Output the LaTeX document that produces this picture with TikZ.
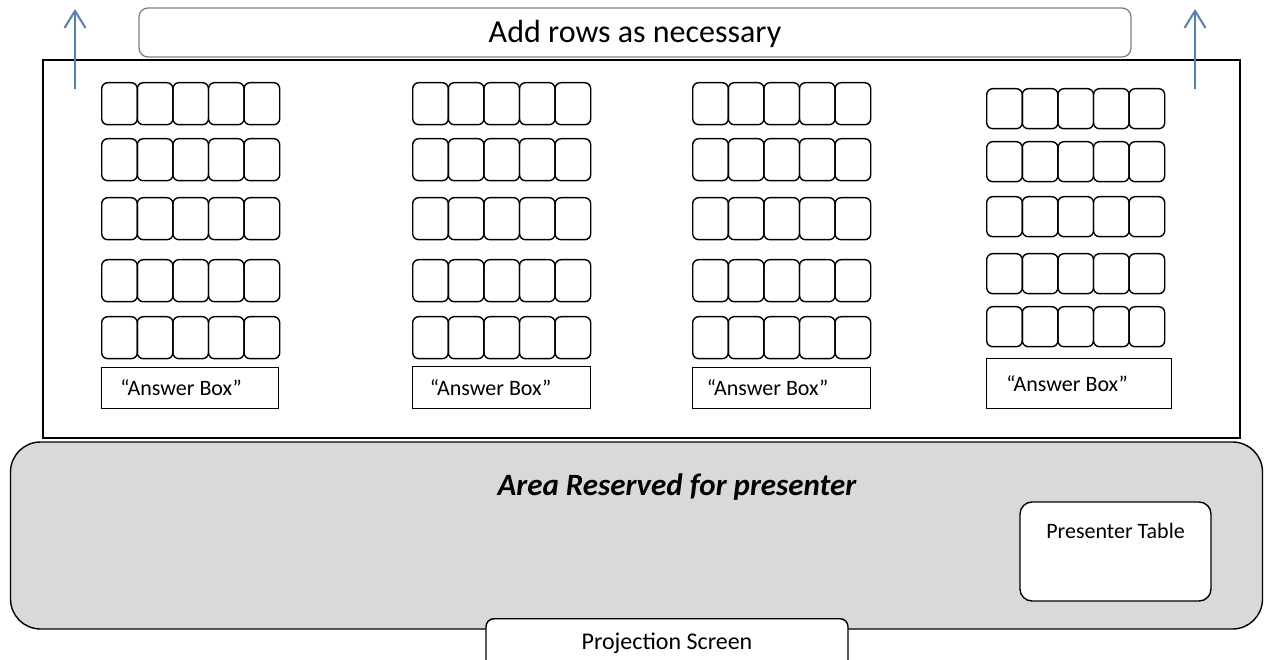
\documentclass[tikz,border=0pt]{standalone}
\usepackage{fontspec}
\setmainfont{Carlito}
\usetikzlibrary{arrows.meta}
\definecolor{arrowblue}{HTML}{4F81BD}
\definecolor{boxgray}{HTML}{7F7F7F}
\definecolor{areagray}{HTML}{D9D9D9}
\tikzset{
  seat/.style={draw, line width=1.4pt, rounded corners=6pt, inner sep=0pt, anchor=north west},
  ansbox/.style={draw, line width=1.2pt, inner sep=0pt, anchor=north west},
  anstext/.style={font=\fontsize{22}{24}\selectfont},
  uparrow/.style={draw=arrowblue, line width=2pt, -{Straight Barb[length=17pt,width=21pt,line width=2pt]}},
}
\begin{document}
\begin{tikzpicture}[x=1pt,y=-1pt]
\useasboundingbox (0,0) rectangle (1264,660);
% Add rows box
\node[draw=boxgray, line width=1.3pt, rounded corners=9pt, minimum width=992pt, minimum height=49pt, inner sep=0pt] (addrows) at (635,32.5) {};
\node[font=\fontsize{32}{34}\selectfont] (addrows-t) at (635,34) {Add rows as necessary};
% main seating rectangle
\node[draw, line width=1.4pt, minimum width=1197pt, minimum height=378pt, inner sep=0pt] (room) at (641.5,249) {};
% arrows
\coordinate (la0) at (75,89);
\coordinate (la1) at (75,9);
\coordinate (ra0) at (1195,89);
\coordinate (ra1) at (1195,9);
\draw[uparrow] (la0) -- (la1);
\draw[uparrow] (ra0) -- (ra1);
% seat groups
\foreach \g/\xo/\h/\ra/\rb/\rc/\rd/\re/\at/\ab/\ar/\sh in {
  1/101/42/82/138/197/259/316/367/408/278/-9,
  2/412/42/82/138/197/259/316/366/408/590/-11,
  3/692/42/82/138/197/259/316/367/408/870/-14,
  4/986/40/88/141/196/253/306/358/408/1171/-12}{
  \foreach \r/\ry in {1/\ra,2/\rb,3/\rc,4/\rd,5/\re}{
    \foreach \c in {0,...,4}{
      \node[seat, minimum width=35.6pt, minimum height=\h pt] (s-\g-\r-\c) at ({\xo+35.6*\c},\ry) {};
    }
  }
  \node[ansbox, minimum width={\ar-\xo}, minimum height={\ab-\at}] (ans-\g) at (\xo,\at) {};
  \node[anstext] (ans-\g-t) at ([xshift=\sh pt]ans-\g.center) {“Answer Box”};
}
% presenter area
\node[draw, line width=1.4pt, fill=areagray, rounded corners=30pt, minimum width=1252pt, minimum height=187pt, inner sep=0pt] (area) at (636.5,535.5) {};
\node[font=\fontsize{31}{34}\selectfont\bfseries\itshape] (area-t) at (677,487) {Area Reserved for presenter};
\node[draw, line width=1.4pt, fill=white, rounded corners=12pt, minimum width=191pt, minimum height=99pt, inner sep=0pt] (table) at (1115.5,551.5) {};
\node[font=\fontsize{22}{24}\selectfont] (table-t) at (1115.5,531) {Presenter Table};
\node[draw, line width=1.4pt, fill=white, rounded corners=8pt, minimum width=362pt, minimum height=70pt, inner sep=0pt, anchor=north] (screen) at (667,618) {};
\node[font=\fontsize{24}{26}\selectfont] (screen-t) at (667,643) {Projection Screen};
\end{tikzpicture}
\end{document}
